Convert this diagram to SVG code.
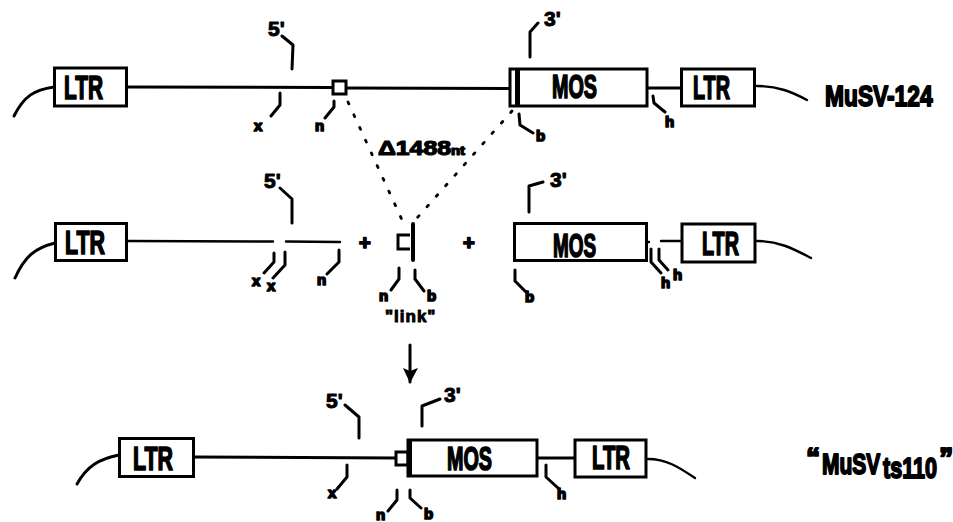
<svg xmlns="http://www.w3.org/2000/svg" width="953" height="522" viewBox="0 0 953 522">
<style>
text{font-family:"Liberation Sans Narrow","Liberation Sans",Arial,sans-serif;font-weight:700;fill:#000;stroke:#000;stroke-linejoin:round}
.big{font-size:33px;stroke-width:1.7px}
.name{font-size:30px;stroke-width:1.9px}
.prime{font-size:21px;stroke-width:1px;font-family:"Liberation Sans",Arial,sans-serif}
.small{font-size:15px;stroke-width:1.7px;font-family:"Liberation Sans",Arial,sans-serif}
.box{fill:#fff;stroke:#000;stroke-width:3}
.ln{fill:none;stroke:#000;stroke-width:3;stroke-linecap:round;stroke-linejoin:round}
.thin{stroke-width:2.4}
.dot{fill:none;stroke:#000;stroke-width:2.8;stroke-dasharray:2 12;stroke-linecap:round}
</style>
<defs><marker id="ah" markerUnits="userSpaceOnUse" markerWidth="16" markerHeight="18" refX="14" refY="8" orient="auto"><path d="M0 0L15 8L0 15L3 8Z" fill="#000"/></marker></defs>
<g id="connectors">
<path class="ln" d="M14 116C24 96 34 90 54 87"/>
<path class="ln" d="M127 87L333 87.500M346 88L510 88.500M647 88L681 88"/>
<path class="ln thin" d="M757 86C778 86 792 92 807 100"/>
<path class="ln" d="M282 36L293 45L292 69M280 93L280 105L271 116M334 101L334 107L325 118M530 57L530 32L538 23M519 114L520 125L533 133M653 96L654 103L665 112"/>
<path class="dot" d="M348 102L403 222M512 111L417 218"/>
<path class="ln" d="M15 278C25 256 35 248 55 243"/>
<path class="ln thin" d="M128 241L273 241.500M286 241.500L340 242M661 241L682 241M648 242L649 242"/>
<path class="ln thin" d="M757 241C778 241 792 248 811 258"/>
<path class="ln" d="M280 188L292 199L292 223M274 253L274 262L264 273M285 252L285 265L273 278M339 250L339 262L327 274M399 268L399 279L391 290M415 270L415 279L424 291M529 212L529 186L543 182M515 270L515 281L526 292M651 249L651 262L661 273M659 249L659 260L668 270"/>
<path class="ln" d="M410 345L410 382" marker-end="url(#ah)"/>
<path class="ln" d="M77 484C87 466 99 459 119 455"/>
<path class="ln" d="M194 457L395 458M537 458L575 458"/>
<path class="ln thin" d="M648 459C667 459 680 468 695 478"/>
<path class="ln" d="M345 405L359 417L359 438M347 465L347 477L337 489M397 490L397 500L388 511M410 490L410 498L421 508M422 426L422 406L440 399M546 465L546 477L558 488"/>
</g>
<g id="ltr-1"><rect class="box" x="54.500" y="68" width="72" height="38"/><text class="big" x="64" y="99" textLength="39" lengthAdjust="spacingAndGlyphs">LTR</text></g>
<g id="site-1"><rect class="box" x="333" y="81" width="13" height="13"/></g>
<g id="mos-1"><rect class="box" x="510" y="69" width="137" height="37"/><rect x="515" y="69" width="5" height="37"/><text class="big" x="552" y="98" textLength="45" lengthAdjust="spacingAndGlyphs">MOS</text></g>
<g id="ltr-2"><rect class="box" x="681.500" y="69" width="73" height="37"/><text class="big" x="693" y="99" textLength="37" lengthAdjust="spacingAndGlyphs">LTR</text></g>
<g id="ltr-3"><rect class="box" x="55.500" y="223.500" width="71" height="37"/><text class="big" x="65" y="254" textLength="40" lengthAdjust="spacingAndGlyphs">LTR</text></g>
<g id="link"><path class="box" d="M410 235H398V249H410"/><path class="ln" d="M413 224V260" style="stroke-width:4"/></g>
<g id="mos-2"><rect class="box" x="514.500" y="223.500" width="132" height="37"/><text class="big" x="553" y="257" textLength="43" lengthAdjust="spacingAndGlyphs">MOS</text></g>
<g id="ltr-4"><rect class="box" x="682" y="224" width="73" height="38"/><text class="big" x="702" y="255" textLength="37" lengthAdjust="spacingAndGlyphs">LTR</text></g>
<g id="ltr-5"><rect class="box" x="119.500" y="438.500" width="74" height="38"/><text class="big" x="133" y="470" textLength="40" lengthAdjust="spacingAndGlyphs">LTR</text></g>
<g id="site-3"><rect class="box" x="396" y="452" width="12" height="13"/></g>
<g id="mos-3"><rect class="box" x="408" y="440" width="129" height="36"/><rect x="407" y="439" width="5" height="38"/><text class="big" x="447" y="470" textLength="45" lengthAdjust="spacingAndGlyphs">MOS</text></g>
<g id="ltr-6"><rect class="box" x="575" y="440" width="71" height="37"/><text class="big" x="592" y="469" textLength="38" lengthAdjust="spacingAndGlyphs">LTR</text></g>
<g id="labels">
<text class="prime" x="268" y="36">5'</text><text class="prime" x="544" y="26">3'</text>
<text class="prime" x="264" y="188">5'</text><text class="prime" x="550" y="187">3'</text>
<text class="prime" x="326" y="408">5'</text><text class="prime" x="444" y="402">3'</text>
<text class="small" x="254" y="131">x</text><text class="small" x="315" y="131">n</text><text class="small" x="536" y="141">b</text><text class="small" x="665" y="127">h</text>
<text class="small" x="252" y="286">x</text><text class="small" x="267" y="291">x</text><text class="small" x="317" y="285">n</text><text class="small" x="379" y="301">n</text><text class="small" x="427" y="301">b</text><text class="small" x="525" y="302">b</text><text class="small" x="661" y="288">h</text><text class="small" x="673" y="280">h</text>
<text class="small" x="328" y="498">x</text><text class="small" x="376" y="520">n</text><text class="small" x="424" y="519">b</text><text class="small" x="557" y="499">h</text>
<text class="small" x="385" y="322" style="font-size:17px;stroke-width:1px;letter-spacing:1px">"link"</text>
<text x="378" y="155" style="font-size:20px;stroke-width:1.2px;font-family:'Liberation Sans',sans-serif" textLength="87" lengthAdjust="spacingAndGlyphs">Δ1488<tspan style="font-size:12px">nt</tspan></text>
<text class="small" x="359" y="250" style="font-size:20px">+</text><text class="small" x="463" y="250" style="font-size:20px">+</text>
<text class="name" transform="translate(825 106) scale(.76 1)">MuSV-124</text>
<text class="name" transform="translate(806 468) scale(.95 1)">“</text>
<text class="name" transform="translate(822 474) scale(.7 1)">MuSV</text>
<text class="name" transform="translate(883 478) scale(.72 1)">ts110</text>
<text class="name" transform="translate(939 468) scale(.95 1)">”</text>
</g>
</svg>
